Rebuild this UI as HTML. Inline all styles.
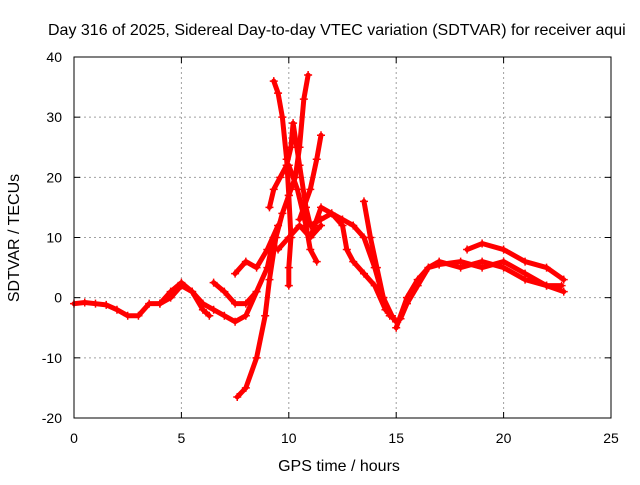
<!DOCTYPE html>
<html><head><meta charset="utf-8"><style>
body{margin:0;background:#fff}
svg text{font-family:"Liberation Sans",sans-serif;font-size:14px;fill:#000}
svg text.big{font-size:16px}
</style></head><body>
<svg id="c" width="640" height="480">
<text class="big" x="48" y="35">Day 316 of 2025, Sidereal Day-to-day VTEC variation (SDTVAR) for receiver aqui</text>
<text class="big" x="339" y="471" text-anchor="middle">GPS time / hours</text>
<text class="big" transform="translate(19,238) rotate(-90)" text-anchor="middle">SDTVAR / TECUs</text>
<g id="grid"></g><g id="marks"></g><g id="ticks"></g>
<rect x="74" y="57" width="537" height="361" fill="none" stroke="#000"/>
</svg>
<script>
const xTicks=[0,5,10,15,20,25];
const yTicks=[-20,-10,0,10,20,30,40];
const trackA=[[0,-1],[0.5,-0.8],[1,-1],[1.5,-1.2],[2,-2],[2.5,-3],[3,-3],[3.5,-1],[4,-1],[4.5,0],[5,2],[5.5,1],[6,-1],[6.5,-2],[7,-3],[7.5,-4],[8,-3],[8.5,1],[9,5],[9.3,10]];
const trackB=[[7.6,-16.5],[8,-15],[8.5,-10],[8.9,-3],[9.1,3],[9.4,10],[9.7,14],[10,17],[10.3,20],[10.5,25],[10.7,33],[10.9,37]];
const trackC=[[9.3,36],[9.5,34],[9.7,30],[9.9,23],[10,17],[10.1,10],[10,5],[10,2]];
const trackD=[[9.1,15],[9.3,18],[9.6,20],[9.9,22],[10.1,25],[10.2,29],[10.5,22],[10.8,15],[11,12],[11.5,13],[12,14],[12.5,13],[13,12],[13.5,10],[14,5],[14.4,0],[14.8,-3],[15,-4]];
const trackE=[[10,22],[10.4,18],[10.8,12],[11,8],[11.3,6]];
const trackF=[[13.5,16],[13.8,10],[14.1,5],[14.4,0],[14.7,-3]];
const trackG=[[11,10],[11.5,15],[12,14],[12.5,12],[12.7,8],[13,6],[13.5,4],[14,2],[14.5,-2],[15,-4],[15.2,-3.5],[15.5,-1],[16,2],[16.5,5],[17,5.5],[18,6],[19,5],[20,6],[21,4],[22,2],[22.8,1]];
const trackH=[[18.3,8],[19,9],[20,8],[21,6],[22,5],[22.8,3]];
const trackI=[[15,-5],[15.5,0],[16,3],[16.5,5],[17,6],[18,5],[19,6],[20,5],[21,3],[22,2],[22.7,2]];
const trackJ=[[6.5,2.5],[7,1],[7.5,-1],[8,-1],[8.5,1]];
const trackK=[[7.5,4],[8,6],[8.5,5],[9,8],[9.5,12]];
const trackL=[[4,-1],[4.5,1],[5,2.5],[5.5,1],[6,-2],[6.3,-3]];
const trackM=[[10.5,13],[11,18],[11.3,23],[11.5,27]];
const trackN=[[9.5,8],[10,10],[10.5,12],[11,10],[11.5,12]];
const tracks=[trackA,trackB,trackC,trackD,trackE,trackF,trackG,trackH,trackI,trackJ,trackK,trackL,trackM,trackN];
const X0=74,X1=611,Y0=418,Y1=57;
const sx=h=>X0+(h-0)/(25-0)*(X1-X0);
const sy=v=>Y0-(v+20)/60*(Y0-Y1);
const NS='http://www.w3.org/2000/svg';
const grid=document.getElementById('grid'),ticks=document.getElementById('ticks'),marks=document.getElementById('marks');
function mk(t,a,p){const e=document.createElementNS(NS,t);for(const k in a)e.setAttribute(k,a[k]);p.appendChild(e);return e;}
xTicks.forEach(t=>{const x=sx(t);
 if(t>0&&t<25){const g=mk('line',{x1:x,x2:x,y1:Y1,y2:Y0,stroke:'#a0a0a0','stroke-dasharray':'2,3'},grid);
 
 }
 mk('line',{x1:x,x2:x,y1:Y0,y2:Y0-6,stroke:'#000'},ticks);mk('line',{x1:x,x2:x,y1:Y1,y2:Y1+6,stroke:'#000'},ticks);
 const l=mk('text',{x:x,y:443,'text-anchor':'middle'},ticks);l.textContent=t;
 
 });
yTicks.forEach(t=>{const y=sy(t);
 if(t>-20&&t<40){const g=mk('line',{x1:X0,x2:X1,y1:y,y2:y,stroke:'#a0a0a0','stroke-dasharray':'2,3'},grid);
 
 }
 mk('line',{x1:X0,x2:X0+6,y1:y,y2:y,stroke:'#000'},ticks);mk('line',{x1:X1,x2:X1-6,y1:y,y2:y,stroke:'#000'},ticks);
 const l=mk('text',{x:62,y:y+5,'text-anchor':'end'},ticks);l.textContent=t;
 
 });
tracks.forEach(tr=>{
 const p=mk('polyline',{points:tr.map(d=>sx(d[0])+','+sy(d[1])).join(' '),fill:'none',stroke:'#f00','stroke-width':5,'stroke-linejoin':'round','stroke-linecap':'round'},marks);
 
 
 tr.forEach(d=>{const x=sx(d[0]),y=sy(d[1]);
  const m=mk('path',{d:`M${x-4},${y}h8M${x},${y-4}v8`,stroke:'#f00','stroke-width':1.5},marks);
  
  });
});
</script>
</body></html>
